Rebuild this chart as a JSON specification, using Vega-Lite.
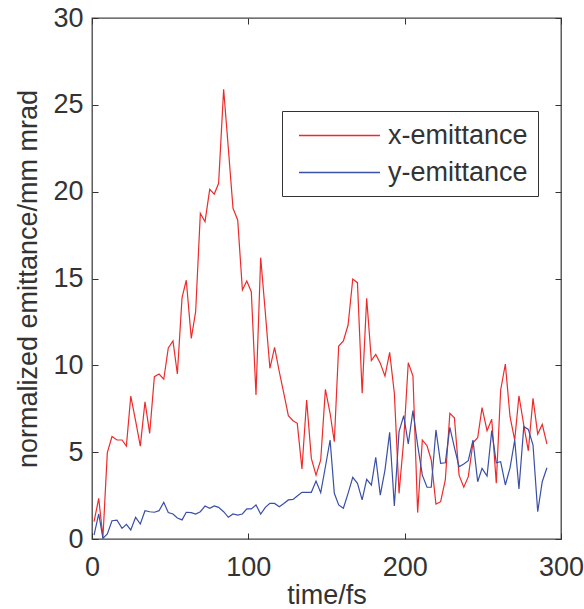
{
  "$schema": "https://vega.github.io/schema/vega-lite/v6.json",
  "autosize": "none",
  "width": 469,
  "height": 521,
  "padding": {"left": 92, "top": 18, "right": 23, "bottom": 70},
  "background": "white",
  "config": {
    "view": {"stroke": "#444", "strokeWidth": 1.3},
    "font": "Liberation Sans",
    "axis": {"grid": false, "domain": false, "labelFlush": false, "tickColor": "#333", "tickSize": -6, "tickWidth": 1, "labelFont": "Liberation Sans", "labelFontSize": 27, "labelColor": "#333", "titleFont": "Liberation Sans", "titleFontSize": 27, "titleFontWeight": "normal", "titleColor": "#333"}
  },
  "data": {"values": [
    {"t": 1.3, "x-emittance": 1.0, "y-emittance": 0.23},
    {"t": 4.3, "x-emittance": 2.34, "y-emittance": 1.44},
    {"t": 7.0, "x-emittance": 0.1, "y-emittance": 0.04},
    {"t": 9.8, "x-emittance": 4.97, "y-emittance": 0.29},
    {"t": 12.8, "x-emittance": 5.9, "y-emittance": 1.05},
    {"t": 16.0, "x-emittance": 5.7, "y-emittance": 1.09},
    {"t": 19.2, "x-emittance": 5.7, "y-emittance": 0.61},
    {"t": 22.0, "x-emittance": 5.35, "y-emittance": 0.84},
    {"t": 24.8, "x-emittance": 8.23, "y-emittance": 0.52},
    {"t": 27.9, "x-emittance": 6.8, "y-emittance": 1.25},
    {"t": 30.9, "x-emittance": 5.35, "y-emittance": 0.86},
    {"t": 33.9, "x-emittance": 7.9, "y-emittance": 1.63},
    {"t": 36.9, "x-emittance": 6.08, "y-emittance": 1.57},
    {"t": 39.9, "x-emittance": 9.35, "y-emittance": 1.54},
    {"t": 42.9, "x-emittance": 9.5, "y-emittance": 1.63},
    {"t": 45.9, "x-emittance": 9.2, "y-emittance": 2.11},
    {"t": 48.8, "x-emittance": 11.0, "y-emittance": 1.52},
    {"t": 51.8, "x-emittance": 11.4, "y-emittance": 1.44},
    {"t": 54.6, "x-emittance": 9.5, "y-emittance": 1.21},
    {"t": 57.6, "x-emittance": 13.9, "y-emittance": 1.1},
    {"t": 60.3, "x-emittance": 14.9, "y-emittance": 1.54},
    {"t": 63.5, "x-emittance": 11.55, "y-emittance": 1.52},
    {"t": 66.3, "x-emittance": 13.09, "y-emittance": 1.44},
    {"t": 69.3, "x-emittance": 18.75, "y-emittance": 1.57},
    {"t": 72.3, "x-emittance": 18.27, "y-emittance": 1.9},
    {"t": 75.3, "x-emittance": 20.13, "y-emittance": 1.77},
    {"t": 78.2, "x-emittance": 19.86, "y-emittance": 1.9},
    {"t": 81.0, "x-emittance": 20.48, "y-emittance": 1.82},
    {"t": 84.2, "x-emittance": 25.9, "y-emittance": 1.57},
    {"t": 87.2, "x-emittance": 22.5, "y-emittance": 1.25},
    {"t": 90.2, "x-emittance": 19.04, "y-emittance": 1.44},
    {"t": 93.2, "x-emittance": 18.37, "y-emittance": 1.38},
    {"t": 96.2, "x-emittance": 14.34, "y-emittance": 1.44},
    {"t": 99.0, "x-emittance": 14.86, "y-emittance": 1.73},
    {"t": 101.9, "x-emittance": 14.24, "y-emittance": 1.73},
    {"t": 104.9, "x-emittance": 8.29, "y-emittance": 1.96},
    {"t": 107.9, "x-emittance": 16.2, "y-emittance": 1.44},
    {"t": 110.9, "x-emittance": 13.0, "y-emittance": 1.82},
    {"t": 113.8, "x-emittance": 9.83, "y-emittance": 2.05},
    {"t": 116.8, "x-emittance": 11.04, "y-emittance": 2.05},
    {"t": 119.8, "x-emittance": 9.63, "y-emittance": 1.86},
    {"t": 122.7, "x-emittance": 8.39, "y-emittance": 2.05},
    {"t": 125.6, "x-emittance": 7.1, "y-emittance": 2.25},
    {"t": 128.6, "x-emittance": 6.81, "y-emittance": 2.28},
    {"t": 131.3, "x-emittance": 6.66, "y-emittance": 2.48},
    {"t": 134.3, "x-emittance": 4.03, "y-emittance": 2.69},
    {"t": 137.3, "x-emittance": 8.0, "y-emittance": 2.69},
    {"t": 140.3, "x-emittance": 4.64, "y-emittance": 2.69},
    {"t": 143.3, "x-emittance": 3.68, "y-emittance": 3.34},
    {"t": 146.3, "x-emittance": 4.55, "y-emittance": 2.67},
    {"t": 149.3, "x-emittance": 8.62, "y-emittance": 4.16},
    {"t": 152.3, "x-emittance": 7.24, "y-emittance": 5.7},
    {"t": 155.0, "x-emittance": 5.6, "y-emittance": 2.63},
    {"t": 157.8, "x-emittance": 11.11, "y-emittance": 1.96},
    {"t": 160.8, "x-emittance": 11.4, "y-emittance": 1.77},
    {"t": 163.8, "x-emittance": 12.32, "y-emittance": 2.63},
    {"t": 166.8, "x-emittance": 14.97, "y-emittance": 3.55},
    {"t": 169.8, "x-emittance": 14.76, "y-emittance": 3.21},
    {"t": 172.8, "x-emittance": 8.39, "y-emittance": 2.25},
    {"t": 175.7, "x-emittance": 13.86, "y-emittance": 3.44},
    {"t": 178.7, "x-emittance": 10.27, "y-emittance": 3.11},
    {"t": 181.5, "x-emittance": 10.63, "y-emittance": 4.7},
    {"t": 184.4, "x-emittance": 10.12, "y-emittance": 2.53},
    {"t": 187.4, "x-emittance": 9.38, "y-emittance": 3.97},
    {"t": 190.4, "x-emittance": 10.75, "y-emittance": 6.14},
    {"t": 193.4, "x-emittance": 8.39, "y-emittance": 1.9},
    {"t": 196.4, "x-emittance": 2.63, "y-emittance": 6.18},
    {"t": 199.4, "x-emittance": 5.7, "y-emittance": 7.1},
    {"t": 202.3, "x-emittance": 10.15, "y-emittance": 5.47},
    {"t": 205.3, "x-emittance": 9.38, "y-emittance": 7.39},
    {"t": 208.3, "x-emittance": 1.52, "y-emittance": 5.41},
    {"t": 211.3, "x-emittance": 5.7, "y-emittance": 3.68},
    {"t": 214.3, "x-emittance": 5.37, "y-emittance": 2.98},
    {"t": 217.0, "x-emittance": 4.55, "y-emittance": 2.98},
    {"t": 220.0, "x-emittance": 2.01, "y-emittance": 6.28},
    {"t": 223.0, "x-emittance": 2.15, "y-emittance": 4.36},
    {"t": 226.0, "x-emittance": 3.4, "y-emittance": 4.39},
    {"t": 228.9, "x-emittance": 7.24, "y-emittance": 6.43},
    {"t": 231.8, "x-emittance": 6.98, "y-emittance": 5.28},
    {"t": 234.8, "x-emittance": 3.68, "y-emittance": 4.16},
    {"t": 237.8, "x-emittance": 2.98, "y-emittance": 4.32},
    {"t": 240.7, "x-emittance": 3.59, "y-emittance": 4.51},
    {"t": 243.7, "x-emittance": 5.54, "y-emittance": 5.7},
    {"t": 246.7, "x-emittance": 5.83, "y-emittance": 3.3},
    {"t": 249.5, "x-emittance": 7.56, "y-emittance": 4.07},
    {"t": 252.7, "x-emittance": 6.24, "y-emittance": 3.63},
    {"t": 255.7, "x-emittance": 6.89, "y-emittance": 6.24},
    {"t": 258.6, "x-emittance": 3.21, "y-emittance": 4.39},
    {"t": 261.4, "x-emittance": 8.58, "y-emittance": 4.45},
    {"t": 264.4, "x-emittance": 10.07, "y-emittance": 3.11},
    {"t": 267.4, "x-emittance": 7.04, "y-emittance": 4.1},
    {"t": 270.4, "x-emittance": 5.7, "y-emittance": 5.7},
    {"t": 273.1, "x-emittance": 8.25, "y-emittance": 2.88},
    {"t": 276.2, "x-emittance": 6.56, "y-emittance": 6.47},
    {"t": 279.1, "x-emittance": 5.08, "y-emittance": 6.31},
    {"t": 282.1, "x-emittance": 8.1, "y-emittance": 5.41},
    {"t": 285.1, "x-emittance": 6.04, "y-emittance": 1.57},
    {"t": 288.0, "x-emittance": 6.6, "y-emittance": 3.3},
    {"t": 291.0, "x-emittance": 5.47, "y-emittance": 4.1}
  ]},
  "transform": [{"fold": ["x-emittance", "y-emittance"], "as": ["series", "value"]}],
  "layer": [
    {
      "mark": {"type": "line", "strokeWidth": 1.2, "clip": true},
      "encoding": {
        "x": {"field": "t", "type": "quantitative", "scale": {"domain": [0, 300], "nice": false},
              "axis": {"orient": "bottom", "values": [0, 100, 200, 300], "labelPadding": 21, "title": "time/fs", "titleY": 56, "titleBaseline": "middle"}},
        "y": {"field": "value", "type": "quantitative", "scale": {"domain": [0, 30], "nice": false},
              "axis": {"orient": "left", "values": [0, 5, 10, 15, 20, 25, 30], "labelPadding": 15, "title": "normalized emittance/mm mrad", "titleX": -64, "titleY": 260.5, "titleAngle": -90, "titleBaseline": "middle", "titleAlign": "center"}},
        "color": {"field": "series", "type": "nominal",
                  "scale": {"domain": ["x-emittance", "y-emittance"], "range": ["#ee2b2b", "#3a4fa6"]},
                  "legend": {"title": null, "orient": "none", "legendX": 190, "legendY": 93, "direction": "vertical",
                             "strokeColor": "#333", "fillColor": "white", "padding": 10,
                             "symbolType": "M-3,0H3", "symbolSize": 729, "symbolStrokeWidth": 1.5, "symbolOffset": 33,
                             "labelFont": "Liberation Sans", "labelFontSize": 27, "labelColor": "#333", "labelOffset": 34, "rowPadding": 9}}
      }
    },
    {
      "mark": {"type": "line", "opacity": 0},
      "encoding": {
        "x": {"field": "t", "type": "quantitative", "axis": {"orient": "top", "values": [0, 100, 200, 300], "labels": false, "title": null}},
        "y": {"field": "value", "type": "quantitative", "axis": {"orient": "right", "values": [0, 5, 10, 15, 20, 25, 30], "labels": false, "title": null}},
        "detail": {"field": "series"}
      }
    }
  ],
  "resolve": {"axis": {"x": "independent", "y": "independent"}}
}
